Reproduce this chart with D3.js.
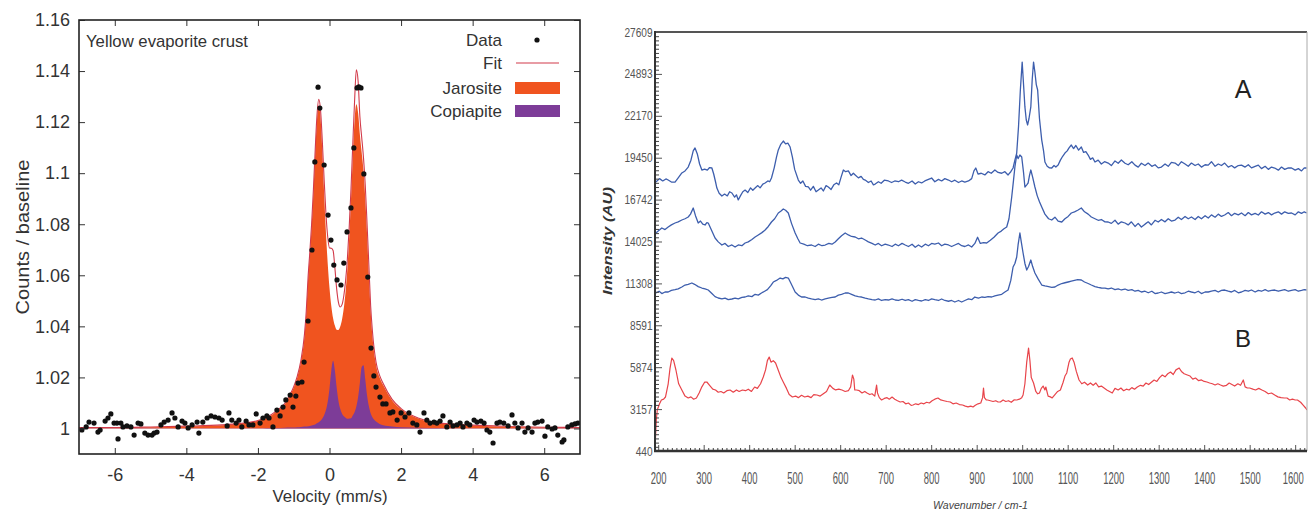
<!DOCTYPE html>
<html>
<head>
<meta charset="utf-8">
<script src="https://cdn.jsdelivr.net/npm/d3@7"></script>
<style>
  body { margin: 0; background: #fff; }
  svg { display: block; font-family: "Liberation Sans", Arial, sans-serif; }
</style>
</head>
<body>
<script>
// ---------- left panel: Mossbauer spectrum ----------
const velocity = [-7,-6,-5,-4,-3,
  -2.5,-2,-1.75,-1.5,-1.25,
  -1.1,-1,-0.9,-0.8,-0.7,
  -0.65,-0.6,-0.55,-0.5,-0.45,
  -0.4,-0.35,-0.3,-0.25,-0.2,
  -0.15,-0.1,-0.05,0,0.05,
  0.1,0.15,0.2,0.25,0.3,
  0.35,0.4,0.45,0.5,0.55,
  0.6,0.65,0.7,0.75,0.8,
  0.85,0.9,0.95,1,1.05,
  1.1,1.15,1.2,1.3,1.4,
  1.5,1.75,2,2.5,3,
  4,5,6,7];
const jarosite = [1.0003,1.0003,1.0005,1.0008,1.0013,
  1.0019,1.003,1.0042,1.0065,1.0095,
  1.013,1.016,1.020,1.026,1.036,
  1.045,1.058,1.068,1.0788,1.0921,
  1.1074,1.1206,1.1265,1.1216,1.1084,
  1.0922,1.077,1.0646,1.055,1.048,
  1.0432,1.0403,1.0387,1.0386,1.0399,
  1.0427,1.0472,1.0537,1.0627,1.0747,
  1.0896,1.106,1.1204,1.127,1.1235,
  1.115,1.108,1.101,1.090,1.076,
  1.060,1.046,1.036,1.025,1.020,
  1.017,1.011,1.0075,1.0038,1.0022,
  1.0012,1.0007,1.0004,1.0003];
const copiapite = [1.0001,1.0001,1.0001,1.0001,1.0001,
  1.0001,1.0001,1.0002,1.0002,1.0003,
  1.0004,1.0004,1.0005,1.0006,1.0008,
  1.0008,1.0009,1.001,1.0012,1.0014,
  1.0016,1.002,1.0024,1.003,1.0039,
  1.0052,1.0072,1.0105,1.0157,1.0226,
  1.0265,1.0227,1.016,1.0108,1.0077,
  1.0058,1.0048,1.0042,1.0038,1.0039,
  1.004,1.0051,1.0064,1.0086,1.0123,
  1.018,1.0241,1.0248,1.0192,1.0129,
  1.0087,1.006,1.0044,1.0027,1.0018,
  1.0013,1.0008,1.0005,1.0003,1.0002,
  1.0001,1.0001,1.0001,1.0001];
const fit = [1.0004,1.0004,1.0006,1.0009,1.0014,
  1.002,1.0031,1.0044,1.0067,1.0098,
  1.0134,1.0164,1.0205,1.0266,1.0368,
  1.0458,1.0589,1.069,1.08,1.0935,
  1.109,1.1226,1.1289,1.1246,1.1123,
  1.0974,1.0842,1.0751,1.0707,1.0706,
  1.0697,1.063,1.0547,1.0494,1.0476,
  1.0485,1.052,1.0579,1.0665,1.0786,
  1.0936,1.1111,1.128,1.1405,1.136,
  1.122,1.114,1.106,1.095,1.080,
  1.064,1.048,1.038,1.026,1.0208,
  1.0176,1.0114,1.0078,1.004,1.0023,
  1.0013,1.0008,1.0005,1.0004];

// measured points [velocity, counts/baseline]
const dataPoints = [
  [-6.92,0.9994],[-6.80,1.0006],[-6.72,1.0025],[-6.58,1.0021],[-6.47,0.9986],[-6.41,0.9994],[-6.27,1.0029],[-6.19,1.0041],[-6.11,1.0057],[-6.02,1.0021],
  [-5.94,1.0021],[-5.91,0.9959],[-5.83,1.0021],[-5.77,1.0006],[-5.66,1.0010],[-5.55,1.0006],[-5.46,0.9974],[-5.35,1.0021],[-5.27,1.0018],[-5.16,0.9982],
  [-5.07,0.9974],[-4.96,0.9974],[-4.90,0.9982],[-4.82,0.9986],[-4.71,1.0014],[-4.62,1.0025],[-4.51,1.0033],[-4.40,1.0061],[-4.32,1.0041],[-4.23,1.0006],
  [-4.12,1.0029],[-4.04,1.0021],[-3.95,1.0002],[-3.84,1.0014],[-3.70,1.0025],[-3.65,0.9982],[-3.54,1.0025],[-3.42,1.0041],[-3.31,1.0049],[-3.20,1.0045],
  [-3.09,1.0041],[-3.00,1.0033],[-2.86,1.0010],[-2.81,1.0061],[-2.73,1.0033],[-2.61,1.0021],[-2.53,1.0033],[-2.45,1.0006],[-2.33,1.0029],[-2.25,1.0014],
  [-2.14,1.0014],[-2.05,1.0057],[-1.94,1.0021],[-1.86,1.0041],[-1.75,1.0049],[-1.69,1.0041],[-1.58,1.0006],[-1.47,1.0072],[-1.38,1.0049],[-1.30,1.0084],
  [-1.22,1.0112],[-1.10,1.0131],[-1.02,1.0084],[-0.94,1.0127],[-0.88,1.0178],[-0.77,1.0182],[-0.71,1.0260],[-0.60,1.0421],[-0.49,1.0699],[-0.41,1.1044],
  [-0.32,1.1337],[-0.27,1.1255],[-0.15,1.1032],[-0.04,1.0836],[0.04,1.0738],[0.12,1.0640],[0.21,1.0582],[0.32,1.0562],[0.40,1.0648],[0.49,1.0770],
  [0.60,1.0864],[0.68,1.1099],[0.77,1.1334],[0.82,1.1338],[0.88,1.1334],[0.96,1.0997],[1.07,1.0593],[1.16,1.0315],[1.24,1.0206],[1.30,1.0162],
  [1.41,1.0123],[1.49,1.0096],[1.58,1.0096],[1.69,1.0061],[1.77,1.0065],[1.89,1.0033],[2.00,1.0061],[2.11,1.0045],[2.22,1.0061],[2.33,1.0021],
  [2.44,1.0014],[2.53,0.9986],[2.64,1.0061],[2.72,1.0033],[2.81,1.0021],[2.92,1.0025],[3.00,1.0021],[3.09,1.0029],[3.17,1.0049],[3.28,1.0006],
  [3.37,1.0025],[3.45,1.0010],[3.56,1.0014],[3.65,1.0021],[3.73,1.0006],[3.84,1.0021],[3.92,1.0014],[4.04,1.0033],[4.12,1.0025],[4.23,1.0029],
  [4.32,1.0021],[4.40,0.9994],[4.48,0.9986],[4.57,0.9943],[4.68,1.0021],[4.76,1.0025],[4.87,1.0021],[4.99,1.0010],[5.10,1.0053],[5.18,1.0021],
  [5.27,1.0002],[5.38,1.0021],[5.46,0.9986],[5.55,1.0002],[5.66,0.9986],[5.74,1.0021],[5.82,1.0025],[5.94,1.0029],[6.02,0.9970],[6.10,1.0006],
  [6.22,0.9998],[6.30,1.0002],[6.38,0.9974],[6.50,0.9947],[6.55,0.9955],[6.66,1.0006],[6.77,1.0014],[6.86,1.0018],[6.94,1.0021]
];

const velTicks = [-6,-4,-2,0,2,4,6];
const velTickLabels = ["-6","-4","-2","0","2","4","6"];
const countTicks = [1,1.02,1.04,1.06,1.08,1.1,1.12,1.14,1.16];
const countTickLabels = ["1","1.02","1.04","1.06","1.08","1.1","1.12","1.14","1.16"];
const legendItems = ["Data","Fit","Jarosite","Copiapite"];

// ---------- right panel: Raman spectra ----------
// [wavenumber, intensity]
const ramanA1 = [[195,17880],[203,18100],[210,17950],[217,18080],[222,18010],[229,17880],[237,17880],[244,18150],[252,18470],[259,18600],[266,18850],[272,19300],[277,19900],[281,20090],[286,19700],[291,19050],[296,18660],[302,18720],[308,18650],[313,18820],[318,18790],[322,18400],[326,17900],[329,17490],[334,17150],[340,16970],[346,17100],[352,16980],[357,17250],[362,17170],[368,16900],[372,17050],[376,16720],[381,17000],[386,17250],[391,17360],[397,17200],[403,17500],[408,17350],[413,17490],[419,17650],[424,17500],[430,17750],[435,17820],[441,17950],[445,17900],[449,18140],[455,18800],[460,19500],[464,19960],[469,20300],[475,20540],[480,20350],[485,20400],[490,20150],[495,19500],[500,18700],[508,18010],[513,17800],[518,17950],[524,17600],[530,17560],[535,17350],[541,17600],[547,17250],[552,17360],[558,17500],[563,17300],[569,17650],[574,17560],[580,17400],[586,17700],[592,17820],[597,17700],[602,18200],[607,18660],[612,18550],[618,18600],[624,18300],[629,18450],[633,18340],[640,18150],[646,18250],[651,18050],[655,18010],[662,17850],[668,17950],[673,17700],[677,17750],[684,17900],[690,17800],[697,18000],[706,17950],[713,17850],[720,17950],[728,17900],[735,18000],[743,17880],[750,17800],[758,17950],[765,17750],[772,17900],[779,17820],[786,17950],[794,18050],[801,18140],[808,17900],[816,18050],[823,17950],[830,18100],[838,18010],[845,17900],[852,18000],[860,17850],[867,17950],[874,17880],[882,17950],[889,18100],[894,18600],[898,18790],[903,18400],[910,18450],[918,18340],[925,18550],[932,18450],[940,18660],[947,18500],[955,18450],[962,18550],[969,18340],[975,18550],[980,18790],[984,19300],[988,19760],[992,21500],[996,23850],[1000,25660],[1003,24200],[1006,22750],[1009,21900],[1012,21580],[1015,22000],[1019,22750],[1022,24500],[1025,25660],[1028,25000],[1031,24200],[1034,23850],[1038,22000],[1043,20600],[1047,19900],[1050,19180],[1055,18900],[1060,18800],[1065,18790],[1070,18950],[1074,18850],[1079,18980],[1084,19300],[1089,19550],[1094,19760],[1099,19900],[1103,20100],[1108,20280],[1113,20050],[1118,20250],[1124,19950],[1130,20150],[1135,19800],[1140,19850],[1145,19630],[1150,19350],[1155,19450],[1160,19180],[1167,19300],[1174,19050],[1181,19200],[1189,19110],[1196,18950],[1204,19250],[1211,19100],[1218,19310],[1226,19100],[1233,19000],[1241,19200],[1248,18980],[1255,18850],[1262,19100],[1270,18950],[1277,19110],[1285,18900],[1292,19000],[1299,18800],[1306,18850],[1314,19050],[1321,18900],[1328,19150],[1336,19110],[1343,18950],[1350,19200],[1358,19050],[1365,18900],[1372,19110],[1380,18950],[1387,19050],[1394,18850],[1402,19000],[1409,18980],[1416,19200],[1424,18900],[1431,19050],[1438,18950],[1445,19110],[1453,18850],[1460,18950],[1467,18800],[1475,18950],[1482,18980],[1490,18850],[1497,19000],[1504,18800],[1512,18900],[1519,18980],[1526,18750],[1534,18900],[1541,18700],[1548,18850],[1555,18790],[1563,18650],[1570,18850],[1577,18700],[1585,18800],[1592,18790],[1600,18650],[1607,18750],[1614,18600],[1620,18800],[1625,18790]];

const ramanA2 = [[195,14575],[202,14750],[208,14900],[215,14800],[222,14964],[229,15100],[237,15224],[244,15300],[252,15418],[259,15500],[266,15613],[271,15800],[277,16196],[282,15700],[288,15224],[293,15350],[298,15150],[303,15094],[307,15250],[310,15224],[318,14700],[325,14251],[332,14000],[340,13797],[347,13900],[354,13700],[362,13800],[369,13667],[376,13800],[384,13750],[391,13927],[398,14000],[406,14150],[413,14316],[420,14450],[428,14600],[435,14770],[442,15000],[449,15289],[456,15500],[464,15872],[470,16000],[475,16131],[480,16050],[486,15872],[493,15200],[501,14575],[507,14200],[512,13927],[520,13850],[528,13750],[537,13797],[545,13700],[552,13850],[560,13750],[567,13797],[575,13900],[582,13850],[589,13991],[596,14200],[603,14400],[611,14575],[618,14450],[625,14350],[633,14316],[640,14200],[647,14250],[655,14121],[662,14000],[670,13900],[677,13797],[684,13900],[691,13750],[699,13850],[706,13797],[714,13700],[721,13850],[728,13750],[736,13900],[743,13797],[750,13700],[758,13850],[765,13650],[772,13800],[779,13667],[787,13850],[794,13750],[801,13900],[808,13850],[816,13927],[823,13750],[830,13850],[838,13800],[845,13700],[852,13797],[860,13900],[867,13750],[874,13700],[882,13800],[889,13667],[896,13900],[902,14300],[908,13900],[915,13950],[922,13927],[930,14100],[938,14300],[947,14575],[954,14700],[960,14850],[966,14964],[971,15500],[977,16910],[981,18000],[984,18855],[988,19633],[991,19400],[995,19633],[999,19503],[1003,18500],[1006,17558],[1010,17700],[1013,17817],[1016,18300],[1019,18660],[1023,18200],[1028,17558],[1033,17000],[1038,16600],[1043,16261],[1050,15800],[1058,15500],[1065,15418],[1072,15600],[1079,15350],[1087,15289],[1094,15500],[1101,15650],[1108,15872],[1115,15950],[1122,16050],[1130,16196],[1137,15950],[1145,15800],[1152,15613],[1160,15500],[1167,15400],[1174,15450],[1182,15300],[1189,15289],[1196,15200],[1204,15400],[1211,15150],[1218,15300],[1226,15224],[1233,15100],[1240,15300],[1248,15000],[1255,15200],[1262,14964],[1270,15150],[1277,15300],[1284,15100],[1292,15400],[1299,15289],[1306,15450],[1314,15300],[1321,15500],[1328,15350],[1336,15418],[1343,15600],[1350,15450],[1358,15650],[1365,15500],[1372,15613],[1380,15450],[1387,15650],[1394,15500],[1402,15700],[1409,15548],[1416,15750],[1424,15600],[1431,15800],[1438,15650],[1445,15743],[1453,15900],[1460,15700],[1467,15850],[1475,15750],[1482,15872],[1490,15700],[1497,15900],[1504,15750],[1512,15850],[1519,15743],[1526,15950],[1534,15800],[1541,15900],[1548,15750],[1555,15872],[1563,15950],[1570,15800],[1577,15950],[1585,15850],[1592,15872],[1600,15750],[1607,15950],[1614,15850],[1620,15950],[1625,15872]];

const ramanA3 = [[195,10685],[202,10800],[208,10650],[215,10750],[222,10750],[229,10850],[237,10900],[244,10950],[252,11074],[259,11200],[266,11250],[274,11333],[280,11250],[288,11100],[296,11009],[303,10950],[310,10879],[318,10650],[325,10450],[332,10361],[340,10300],[347,10350],[354,10250],[362,10296],[369,10350],[376,10300],[384,10400],[391,10425],[398,10500],[406,10450],[413,10600],[420,10550],[427,10685],[434,10800],[440,10900],[447,11150],[453,11398],[460,11500],[468,11657],[474,11600],[480,11700],[486,11657],[492,11300],[501,10750],[508,10550],[515,10425],[523,10425],[530,10350],[537,10300],[545,10250],[552,10300],[559,10231],[567,10300],[574,10350],[582,10400],[589,10425],[596,10550],[603,10600],[611,10685],[618,10685],[625,10600],[633,10500],[640,10450],[647,10425],[655,10350],[662,10300],[670,10250],[677,10231],[684,10300],[691,10200],[699,10250],[706,10231],[714,10300],[721,10231],[728,10200],[736,10280],[743,10200],[750,10250],[758,10150],[765,10250],[772,10200],[779,10166],[787,10250],[794,10200],[801,10300],[808,10250],[816,10200],[823,10296],[830,10200],[838,10150],[845,10200],[852,10100],[860,10200],[867,10101],[874,10200],[882,10300],[889,10250],[896,10425],[904,10350],[911,10425],[918,10400],[925,10450],[933,10425],[940,10500],[947,10550],[955,10600],[962,10750],[969,10879],[975,11500],[980,12371],[984,12600],[988,13019],[991,13800],[995,14575],[998,14000],[1002,13278],[1006,12600],[1010,12176],[1014,12400],[1019,12824],[1023,12400],[1028,11981],[1035,11600],[1043,11203],[1050,11150],[1058,11100],[1065,11050],[1072,11074],[1079,11200],[1087,11300],[1094,11350],[1101,11398],[1108,11450],[1115,11500],[1122,11550],[1130,11528],[1137,11400],[1145,11300],[1152,11203],[1160,11100],[1167,11050],[1174,11009],[1182,11000],[1189,10950],[1196,11009],[1204,10900],[1211,10950],[1218,10880],[1226,10944],[1233,10850],[1241,10900],[1248,10800],[1255,10850],[1262,10750],[1270,10800],[1277,10700],[1285,10800],[1292,10650],[1299,10685],[1306,10750],[1314,10650],[1321,10700],[1328,10750],[1336,10685],[1343,10750],[1350,10650],[1358,10700],[1365,10800],[1372,10750],[1380,10700],[1387,10800],[1394,10650],[1402,10750],[1409,10750],[1416,10800],[1424,10850],[1431,10750],[1438,10850],[1445,10879],[1453,10800],[1460,10750],[1467,10850],[1475,10700],[1482,10750],[1490,10850],[1497,10800],[1504,10880],[1512,10750],[1519,10850],[1526,10800],[1534,10900],[1541,10800],[1548,10850],[1555,10879],[1563,10800],[1570,10850],[1577,10900],[1585,10800],[1592,10850],[1600,10900],[1607,10800],[1614,10850],[1620,10900],[1625,10879]];

const ramanB = [[193,635],[196,2500],[198,3098],[203,3500],[207,3747],[212,3800],[216,3941],[222,4800],[226,5800],[230,6470],[234,6300],[239,5692],[245,4800],[252,4395],[259,4000],[266,3877],[272,3950],[278,3800],[284,3877],[290,4200],[296,4600],[302,4900],[307,4914],[313,4700],[320,4450],[326,4395],[332,4250],[338,4300],[344,4201],[351,4350],[358,4395],[365,4250],[372,4400],[378,4300],[385,4395],[392,4350],[398,4450],[405,4300],[412,4590],[418,4500],[425,4800],[431,5238],[436,5700],[440,6300],[444,6535],[448,6200],[453,6300],[458,6146],[465,5600],[470,5200],[476,4849],[482,4500],[488,4100],[495,3941],[502,4000],[508,3900],[515,4050],[522,3941],[529,4000],[536,3900],[542,4100],[549,4071],[556,4000],[563,4150],[570,4300],[577,4719],[584,4500],[590,4400],[597,4450],[604,4395],[611,4300],[618,4350],[623,4600],[627,5368],[630,5100],[632,4400],[636,4395],[642,4350],[648,4200],[654,4300],[659,4201],[665,4100],[670,4150],[676,4000],[680,4719],[682,4200],[686,3900],[691,3747],[697,3850],[703,3900],[708,3800],[714,3941],[720,3800],[726,3700],[732,3617],[738,3650],[744,3500],[750,3550],[756,3400],[760,3423],[766,3500],[772,3450],[778,3550],[784,3500],[790,3600],[796,3552],[802,3700],[808,3800],[815,3877],[821,3750],[828,3700],[835,3650],[842,3617],[848,3500],[855,3550],[862,3450],[869,3423],[875,3350],[881,3300],[887,3350],[892,3293],[897,3400],[903,3500],[909,3550],[913,3900],[915,4525],[917,3900],[921,3750],[924,3747],[930,3700],[936,3650],[942,3700],[947,3617],[952,3617],[958,3750],[964,3650],[970,3700],[976,3600],[982,3750],[988,3747],[994,3800],[999,3900],[1002,4071],[1006,4800],[1010,6200],[1014,7119],[1017,6300],[1020,5200],[1025,4849],[1030,4300],[1034,4150],[1038,4201],[1042,4500],[1046,4650],[1050,4400],[1052,4590],[1057,4000],[1062,3950],[1066,3877],[1072,4100],[1078,4300],[1084,4395],[1090,4900],[1094,5300],[1098,5498],[1103,6200],[1106,6400],[1110,6470],[1114,6200],[1119,5600],[1125,5044],[1131,4800],[1137,4900],[1144,4719],[1150,4850],[1156,4700],[1162,4849],[1168,4600],[1174,4650],[1180,4525],[1186,4400],[1192,4300],[1198,4201],[1204,4500],[1211,4400],[1217,4525],[1223,4350],[1229,4450],[1235,4395],[1241,4550],[1247,4450],[1253,4590],[1260,4700],[1266,4650],[1272,4849],[1278,4750],[1284,4900],[1290,5044],[1296,4950],[1302,5200],[1308,5368],[1314,5250],[1320,5450],[1326,5562],[1332,5400],[1338,5700],[1345,5822],[1350,5600],[1356,5450],[1363,5368],[1369,5300],[1375,5100],[1381,5173],[1388,5000],[1394,5050],[1400,4950],[1406,4914],[1412,4850],[1418,4800],[1424,4719],[1430,4800],[1436,4719],[1442,4650],[1449,4700],[1455,4849],[1461,4750],[1467,4650],[1474,4800],[1480,4700],[1486,5044],[1490,4600],[1495,4525],[1500,4525],[1507,4450],[1513,4395],[1520,4500],[1527,4395],[1534,4300],[1541,4150],[1548,4201],[1555,4071],[1562,3950],[1569,3900],[1576,3877],[1582,3877],[1588,3750],[1594,3800],[1600,3747],[1605,3747],[1612,3600],[1618,3400],[1623,3228],[1626,3100]];

const waveTicks = [200,300,400,500,600,700,800,900,1000,1100,1200,1300,1400,1500,1600];
const intensityTicks = [440,3157,5874,8591,11308,14025,16741,19458,22175,24892,27609];
const intensityTickLabels = ["440","3157","5874","8591","11308","14025","16742","19450","22170","24893","27609"];

const width = 1308, height = 512;
const svg = d3.select("body").append("svg").attr("width", width).attr("height", height);

// ================= left panel =================
const xL = d3.scaleLinear([-7, 7], [79, 580]);
const yL = d3.scaleLinear([0.99, 1.16], [454, 20]);

svg.append("clipPath").attr("id", "clipL")
  .append("rect").attr("x", 79).attr("y", 20).attr("width", 501).attr("height", 434);

const left = svg.append("g").attr("clip-path", "url(#clipL)");

const areaFrom = vals => d3.area()
  .x((d, i) => xL(velocity[i]))
  .y0(yL(1))
  .y1(d => yL(d))
  .curve(d3.curveMonotoneX)(vals);

left.append("path").attr("d", areaFrom(jarosite)).attr("fill", "#f0541f");
left.append("path").attr("d", areaFrom(copiapite)).attr("fill", "#7d3c98");

const fitLine = d3.line()
  .x((d, i) => xL(velocity[i]))
  .y(d => yL(d))
  .curve(d3.curveMonotoneX);
left.append("path").attr("d", fitLine(fit))
  .attr("fill", "none").attr("stroke", "#d23a4a").attr("stroke-width", 1.1);

left.selectAll("circle.pt").data(dataPoints).enter().append("circle")
  .attr("class", "pt")
  .attr("cx", d => xL(d[0]))
  .attr("cy", d => yL(d[1]))
  .attr("r", 2.6)
  .attr("fill", "#111");

// axes (ticks point inward)
const styleAxis = (g, size, col) => {
  g.select(".domain").remove();
  g.selectAll("line").attr("stroke", col);
  g.selectAll("text").attr("font-family", "Liberation Sans, Arial, sans-serif")
    .attr("font-size", size).attr("fill", col);
};

svg.append("g").attr("transform", "translate(79,0)")
  .call(d3.axisLeft(yL).tickValues(countTicks).tickFormat((d, i) => countTickLabels[i])
    .tickSizeInner(-6).tickSizeOuter(0).tickPadding(9))
  .call(g => styleAxis(g, 18, "#333"));
svg.append("g").attr("transform", "translate(580,0)")
  .call(d3.axisRight(yL).tickValues(countTicks).tickFormat("").tickSizeInner(-6).tickSizeOuter(0))
  .call(g => styleAxis(g, 18, "#333"));
svg.append("g").attr("transform", "translate(0,454)")
  .call(d3.axisBottom(xL).tickValues(velTicks).tickFormat((d, i) => velTickLabels[i])
    .tickSizeInner(-6).tickSizeOuter(0).tickPadding(14))
  .call(g => styleAxis(g, 18, "#333"));
svg.append("g").attr("transform", "translate(0,20)")
  .call(d3.axisTop(xL).tickValues(velTicks).tickFormat("").tickSizeInner(-6).tickSizeOuter(0))
  .call(g => styleAxis(g, 18, "#333"));

svg.append("rect").attr("x", 79).attr("y", 20).attr("width", 501).attr("height", 434)
  .attr("fill", "none").attr("stroke", "#222").attr("stroke-width", 1.6);

svg.append("text").text("Yellow evaporite crust")
  .attr("x", 86).attr("y", 47).attr("font-size", 17).attr("fill", "#333")
  .attr("textLength", 162).attr("lengthAdjust", "spacingAndGlyphs");

svg.append("text").text("Velocity (mm/s)")
  .attr("x", 330).attr("y", 502).attr("text-anchor", "middle")
  .attr("font-size", 17).attr("fill", "#333")
  .attr("textLength", 115).attr("lengthAdjust", "spacingAndGlyphs");

svg.append("text").text("Counts / baseline")
  .attr("transform", "translate(29,237) rotate(-90)").attr("text-anchor", "middle")
  .attr("font-size", 18).attr("fill", "#333")
  .attr("textLength", 155).attr("lengthAdjust", "spacingAndGlyphs");

// legend
const legY = [46, 69, 94, 117];
const legend = svg.append("g");
legend.selectAll("text").data(legendItems).enter().append("text")
  .text(d => d)
  .attr("x", 502).attr("y", (d, i) => legY[i])
  .attr("text-anchor", "end").attr("font-size", 17).attr("fill", "#333");
legend.append("circle").attr("cx", 537).attr("cy", 40).attr("r", 2.6).attr("fill", "#111");
legend.append("line").attr("x1", 516).attr("x2", 559).attr("y1", 63).attr("y2", 63)
  .attr("stroke", "#d23a4a").attr("stroke-width", 1.1);
legend.append("rect").attr("x", 515).attr("y", 82).attr("width", 45).attr("height", 12).attr("fill", "#f0541f");
legend.append("rect").attr("x", 515).attr("y", 105).attr("width", 45).attr("height", 12).attr("fill", "#7d3c98");

// ================= right panel =================
const xR = d3.scaleLinear([193, 1626], [655, 1307]);
const yR = d3.scaleLinear([440, 27609], [451, 32]);

svg.append("clipPath").attr("id", "clipR")
  .append("rect").attr("x", 655).attr("y", 32).attr("width", 652).attr("height", 419);
const right = svg.append("g").attr("clip-path", "url(#clipR)");

const specLine = d3.line().x(d => xR(d[0])).y(d => yR(d[1]));
[ramanA1, ramanA2, ramanA3].forEach(s => {
  right.append("path").attr("d", specLine(s)).attr("fill", "none")
    .attr("stroke", "#3d5ead").attr("stroke-width", 1.3).attr("stroke-linejoin", "round");
});
right.append("path").attr("d", specLine(ramanB)).attr("fill", "none")
  .attr("stroke", "#e8444a").attr("stroke-width", 1.2).attr("stroke-linejoin", "round");

// minor ticks
const yStep = (intensityTicks[10] - intensityTicks[0]) / 100;
const yMinor = d3.range(0, 101).filter(k => k % 10 !== 0).map(k => intensityTicks[0] + k * yStep);
const xMinor = d3.range(200, 1630, 10).filter(v => v % 100 !== 0);

svg.append("g").attr("transform", "translate(655,0)")
  .call(d3.axisLeft(yR).tickValues(yMinor).tickFormat("").tickSizeInner(-4).tickSizeOuter(0))
  .call(g => styleAxis(g, 12, "#444"));
svg.append("g").attr("transform", "translate(0,451)")
  .call(d3.axisBottom(xR).tickValues(xMinor).tickFormat("").tickSizeInner(-3).tickSizeOuter(0))
  .call(g => styleAxis(g, 12, "#444"));

// narrow tick labels: squeeze horizontally with a transform
svg.append("g").attr("transform", "translate(655,0)")
  .call(d3.axisLeft(yR).tickValues(intensityTicks).tickFormat((d, i) => intensityTickLabels[i])
    .tickSizeInner(-7).tickSizeOuter(0).tickPadding(3))
  .call(g => styleAxis(g, 12.5, "#555"))
  .call(g => g.selectAll("text").attr("transform", "scale(0.81,1)"));

svg.append("g").attr("transform", "translate(0,451)")
  .call(d3.axisBottom(xR).tickValues(waveTicks).tickFormat(d => String(d))
    .tickSizeInner(-6).tickSizeOuter(0).tickPadding(22))
  .call(g => styleAxis(g, 16, "#555"))
  .call(g => g.selectAll("text").attr("transform", "scale(0.59,1)")
    .attr("x", d => d === 1600 ? -4 : 0));

// frame
svg.append("line").attr("x1", 655).attr("x2", 1307).attr("y1", 32).attr("y2", 32)
  .attr("stroke", "#555").attr("stroke-width", 2);
svg.append("line").attr("x1", 1307).attr("x2", 1307).attr("y1", 32).attr("y2", 451)
  .attr("stroke", "#aaa").attr("stroke-width", 1);
svg.append("line").attr("x1", 655).attr("x2", 655).attr("y1", 31).attr("y2", 452)
  .attr("stroke", "#333").attr("stroke-width", 2);
svg.append("line").attr("x1", 654).attr("x2", 1307).attr("y1", 451).attr("y2", 451)
  .attr("stroke", "#333").attr("stroke-width", 2.5);

svg.append("text").text("A").attr("x", 1243).attr("y", 98).attr("text-anchor", "middle")
  .attr("font-size", 25).attr("fill", "#222");
svg.append("text").text("B").attr("x", 1243).attr("y", 347).attr("text-anchor", "middle")
  .attr("font-size", 24).attr("fill", "#222");

svg.append("text").text("Wavenumber / cm-1")
  .attr("x", 933).attr("y", 509).attr("font-size", 11.5).attr("font-style", "italic").attr("fill", "#444")
  .attr("textLength", 95).attr("lengthAdjust", "spacingAndGlyphs");

svg.append("text").text("Intensity (AU)")
  .attr("transform", "translate(612,241) rotate(-90)").attr("text-anchor", "middle")
  .attr("font-size", 13).attr("font-weight", "bold").attr("font-style", "italic").attr("fill", "#333")
  .attr("textLength", 108).attr("lengthAdjust", "spacingAndGlyphs");
</script>
</body>
</html>
